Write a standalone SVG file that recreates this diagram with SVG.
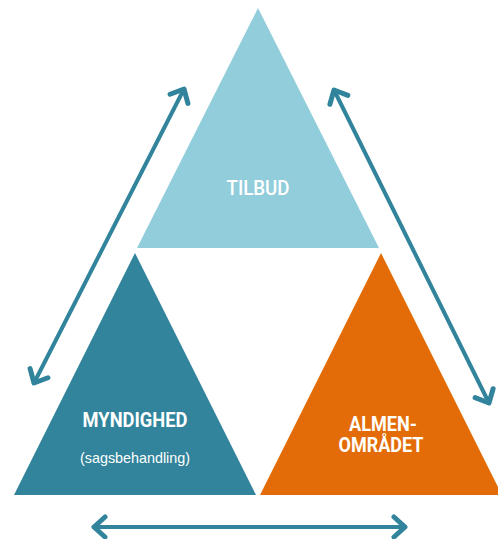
<svg xmlns="http://www.w3.org/2000/svg" width="498" height="539" viewBox="0 0 498 539">
<style>
.lbl{fill:#ffffff;font-family:Roboto,"Liberation Sans",sans-serif;text-anchor:middle}
.big{font-size:20px;font-weight:bold}
.small{font-family:"Liberation Sans",Arial,sans-serif;font-size:15px}
.conn{stroke:#31849B;stroke-width:4;fill:none;stroke-linecap:round}
</style>
<defs>
<marker id="ah" markerUnits="userSpaceOnUse" viewBox="-15 -13 19 26" refX="0" refY="0" markerWidth="19" markerHeight="26" orient="auto-start-reverse">
<path d="M -11 -10 L 0 0 L -11 10" fill="none" stroke="#31849B" stroke-width="5" stroke-linecap="round" stroke-linejoin="round"/>
</marker>
</defs>
<rect width="498" height="539" fill="#ffffff"/>
<g id="tilbud">
<polygon points="258,8 379,248 137,248" fill="#92CDDC"/>
<text class="lbl" x="258" y="195" font-size="21" font-weight="500" textLength="63" lengthAdjust="spacingAndGlyphs">TILBUD</text>
</g>
<g id="myndighed">
<polygon points="135,253 256,495 14,495" fill="#31849B"/>
<text class="lbl big" x="135" y="427" textLength="105" lengthAdjust="spacingAndGlyphs">MYNDIGHED</text>
<text class="lbl small" x="135" y="463" textLength="110" lengthAdjust="spacingAndGlyphs">(sagsbehandling)</text>
</g>
<g id="almenomraadet">
<polygon points="381,253 502,495 260,495" fill="#E36C09"/>
<text class="lbl big" x="383" y="431" textLength="68" lengthAdjust="spacingAndGlyphs">ALMEN-</text>
<text class="lbl big" x="381" y="452" textLength="85" lengthAdjust="spacingAndGlyphs">OMRÅDET</text>
</g>
<g id="connectors">
<line class="conn" x1="34" y1="383" x2="184" y2="89" marker-start="url(#ah)" marker-end="url(#ah)"/>
<line class="conn" x1="334" y1="90" x2="489" y2="403" marker-start="url(#ah)" marker-end="url(#ah)"/>
<line class="conn" x1="94" y1="527" x2="405" y2="527" marker-start="url(#ah)" marker-end="url(#ah)"/>
</g>
</svg>
